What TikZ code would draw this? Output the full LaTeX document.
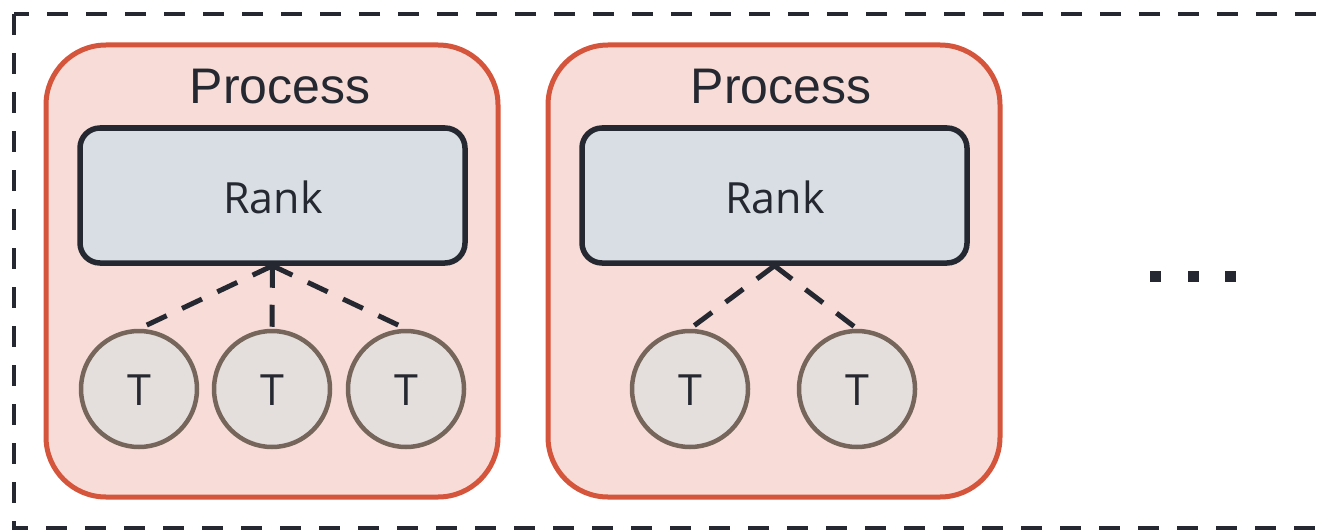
\documentclass[tikz,border=0pt]{standalone}
\usepackage{fontspec}
\setmainfont{Liberation Sans}
\newfontfamily\osfont{Open Sans}
\definecolor{procred}{HTML}{D4553B}
\definecolor{procfill}{HTML}{F7DCD7}
\definecolor{rankfill}{HTML}{D9DEE5}
\definecolor{inkdark}{HTML}{252830}
\definecolor{tfill}{HTML}{E4DFDC}
\definecolor{tborder}{HTML}{75655A}
\begin{document}
\begin{tikzpicture}[x=1pt,y=-1pt,
  processbox/.style={draw=procred, fill=procfill, line width=5pt, rounded corners=60pt,
    minimum width=452pt, minimum height=452pt, inner sep=0pt},
  proclabel/.style={text=inkdark, font=\fontsize{50}{58}\selectfont, anchor=base, inner sep=0pt},
  rankbox/.style={draw=inkdark, fill=rankfill, line width=5.5pt, rounded corners=20pt,
    minimum width=385pt, minimum height=135pt, inner sep=0pt},
  ranklabel/.style={text=inkdark, font=\osfont\fontsize{43}{50}\selectfont, anchor=base, inner sep=0pt},
  tnode/.style={circle, draw=tborder, fill=tfill, line width=4.5pt, minimum size=116pt, inner sep=0pt},
  tlabel/.style={text=inkdark, font=\osfont\fontsize{43}{50}\selectfont, anchor=base, inner sep=0pt},
  link/.style={draw=inkdark, line width=5pt, dash pattern=on 22pt off 17pt},
  outer/.style={draw=inkdark, line width=4.5pt, dash pattern=on 21pt off 18pt},
  dotmark/.style={fill=inkdark, minimum size=11pt, inner sep=0pt}]
\useasboundingbox (0,0) rectangle (1332,532);
\clip (0,0) rectangle (1332,532);
\draw[outer] (14,14) rectangle (1360,528);
% process boxes
\node[processbox] (p1) at (272,271) {};
\node[processbox] (p2) at (774,271) {};
\node[proclabel] (l1) at (280,104) {Process};
\node[proclabel] (l2) at (781,104) {Process};
% threads
\node[tnode] (t11) at (139,389) {};
\node[tnode] (t12) at (272,389) {};
\node[tnode] (t13) at (406,389) {};
\node[tnode] (t21) at (690,389) {};
\node[tnode] (t22) at (857,389) {};
\foreach \n in {t11,t12,t13,t21,t22}{
  \node[tlabel] (\n-txt) at ([yshift=-16pt]\n.center) {T};
}
% rank boxes
\node[rankbox] (r1) at (272.5,195.5) {};
\node[rankbox] (r2) at (774.5,195.5) {};
\node[ranklabel] (rl1) at (273,213) {Rank};
\node[ranklabel] (rl2) at (775,213) {Rank};
% links
\draw[link] (r1.south) -- (t11.north);
\draw[link] (r1.south) -- (t12.north);
\draw[link] (r1.south) -- (t13.north);
\draw[link] (r2.south) -- (t21.north);
\draw[link] (r2.south) -- (t22.north);
% ellipsis
\node[dotmark] (d1) at (1155,276) {};
\node[dotmark] (d2) at (1193,276) {};
\node[dotmark] (d3) at (1230,276) {};
\end{tikzpicture}
\end{document}
